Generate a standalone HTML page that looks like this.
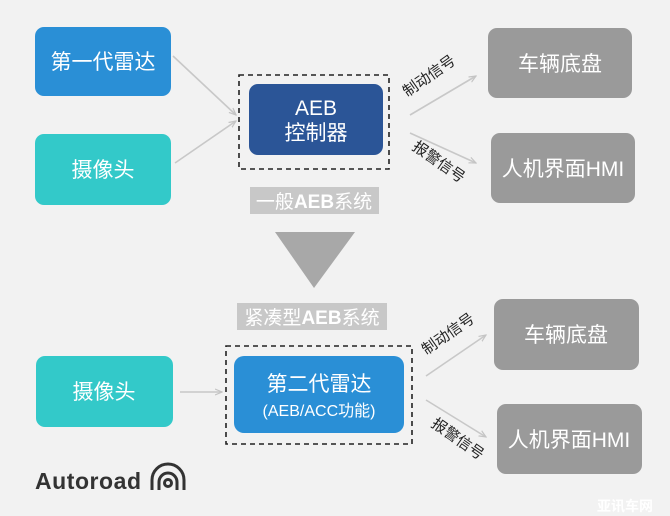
<!DOCTYPE html>
<html><head><meta charset="utf-8"><style>
html,body{margin:0;padding:0;background:#f2f2f2;}
svg{display:block;}
text{font-family:"Liberation Sans","Noto Sans CJK SC",sans-serif;}
</style></head><body>
<svg width="670" height="516" viewBox="0 0 670 516" xmlns="http://www.w3.org/2000/svg">
<defs><marker id="a" markerWidth="8" markerHeight="8" refX="7" refY="4" orient="auto" markerUnits="userSpaceOnUse"><path d="M0,1 L7,4 L0,7" fill="none" stroke="#c4c4c4" stroke-width="1.2"/></marker></defs>
<rect width="670" height="516" fill="#f2f2f2"/>
<g stroke="#c8c8c8" stroke-width="1.6" marker-end="url(#a)">
<line x1="173" y1="56" x2="236" y2="115"/>
<line x1="175" y1="163" x2="236" y2="121"/>
<line x1="410" y1="115" x2="476" y2="76"/>
<line x1="410" y1="133" x2="476" y2="163"/>
<line x1="180" y1="392" x2="222" y2="392"/>
<line x1="426" y1="376" x2="486" y2="335"/>
<line x1="426" y1="400" x2="486" y2="437"/>
</g>
<g font-size="21" fill="#fff" text-anchor="middle">
<rect x="35" y="27" width="136" height="69" rx="9" fill="#2a8fd6"/><text x="103" y="69">第一代雷达</text>
<rect x="35" y="134" width="136" height="71" rx="9" fill="#33c9c9"/><text x="103" y="177">摄像头</text>
<rect x="239" y="75" width="150" height="94" fill="none" stroke="#222" stroke-width="1.6" stroke-dasharray="5,4"/>
<rect x="249" y="84" width="134" height="71" rx="9" fill="#2b5597"/><text x="316" y="115">AEB</text><text x="316" y="140">控制器</text>
<rect x="488" y="28" width="144" height="70" rx="9" fill="#9a9a9a"/><text x="560" y="71">车辆底盘</text>
<rect x="491" y="133" width="144" height="70" rx="9" fill="#9a9a9a"/><text x="563" y="176">人机界面HMI</text>
<rect x="250" y="187" width="129" height="27" fill="#c8c8c8"/><text x="314" y="208" font-size="19">一般<tspan font-weight="bold">AEB</tspan>系统</text>
<polygon points="275,232 355,232 314,288" fill="#a8a8a8"/>
<rect x="237" y="303" width="150" height="27" fill="#c8c8c8"/><text x="312" y="324" font-size="19">紧凑型<tspan font-weight="bold">AEB</tspan>系统</text>
<rect x="36" y="356" width="137" height="71" rx="9" fill="#33c9c9"/><text x="104" y="399">摄像头</text>
<rect x="226" y="346" width="186" height="98" fill="none" stroke="#222" stroke-width="1.6" stroke-dasharray="5,4"/>
<rect x="234" y="356" width="170" height="77" rx="10" fill="#2a8fd6"/><text x="319" y="391">第二代雷达</text><text x="319" y="416" font-size="16">(AEB/ACC功能)</text>
<rect x="494" y="299" width="145" height="71" rx="9" fill="#9a9a9a"/><text x="566" y="342">车辆底盘</text>
<rect x="497" y="404" width="145" height="70" rx="9" fill="#9a9a9a"/><text x="569" y="447">人机界面HMI</text>
</g>
<g font-size="15" fill="#222" text-anchor="middle">
<text transform="translate(432,80) rotate(-35)">制动信号</text>
<text transform="translate(436,166) rotate(35)">报警信号</text>
<text transform="translate(451,338) rotate(-35)">制动信号</text>
<text transform="translate(455,443) rotate(35)">报警信号</text>
</g>
<text x="35" y="489" font-size="23" font-weight="bold" fill="#333" textLength="106">Autoroad</text>
<g fill="none" stroke="#333" stroke-width="3">
<path d="M152,490 V480 a16,16 0 0 1 32,0 V490"/>
<path d="M159,490 V482 a9,9 0 0 1 18,0 V490"/>
<circle cx="168" cy="483" r="3.5"/>
</g>
<text x="625" y="511" font-size="14" font-weight="bold" fill="#fff" text-anchor="middle">亚讯车网</text>
</svg>
</body></html>
